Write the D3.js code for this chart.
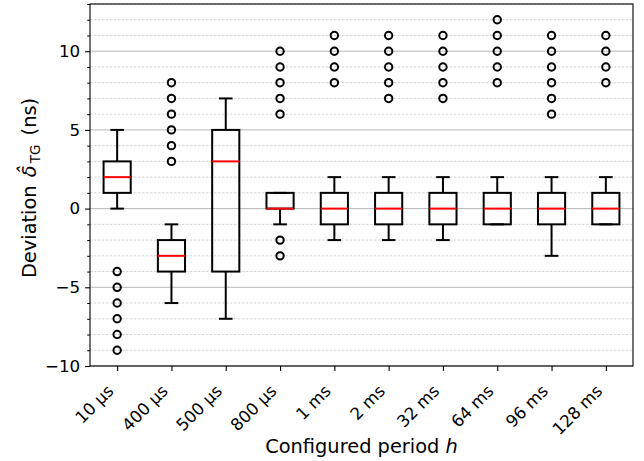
<!DOCTYPE html>
<html>
<head>
<meta charset="utf-8">
<script src="https://cdn.jsdelivr.net/npm/d3@7"></script>
<style>
  body { margin: 0; background: #fff; }
  text { font-family: "DejaVu Sans", sans-serif; }
</style>
</head>
<body>
<svg id="chart"></svg>
<script>
// categories and box statistics (ns)
var periods = ["10 µs", "400 µs", "500 µs", "800 µs", "1 ms", "2 ms", "32 ms", "64 ms", "96 ms", "128 ms"];
var whiskerLow  = [0, -6, -7, -1, -2, -2, -2, -1, -3, -1];
var q1          = [1, -4, -4,  0, -1, -1, -1, -1, -1, -1];
var median      = [2, -3,  3,  0,  0,  0,  0,  0,  0,  0];
var q3          = [3, -2,  5,  1,  1,  1,  1,  1,  1,  1];
var whiskerHigh = [5, -1,  7,  1,  2,  2,  2,  2,  2,  2];
var outliers = [
  [-4, -5, -6, -7, -8, -9],
  [3, 4, 5, 6, 7, 8],
  [],
  [6, 7, 8, 9, 10, -2, -3],
  [8, 9, 10, 11],
  [7, 8, 9, 10, 11],
  [7, 8, 9, 10, 11],
  [8, 9, 10, 11, 12],
  [6, 7, 8, 9, 10, 11],
  [8, 9, 10, 11]
];
var yMajorTicks = [-10, -5, 0, 5, 10];

var width = 644, height = 461;
var margin = {left: 90, right: 11, top: 4, bottom: 95};

var svg = d3.select("#chart")
  .attr("width", width)
  .attr("height", height);

// positions 1..n like matplotlib boxplot
var x = d3.scaleLinear()
  .domain([0.5, periods.length + 0.5])
  .range([margin.left, width - margin.right]);

var y = d3.scaleLinear()
  .domain([-10, 13])
  .range([height - margin.bottom, margin.top]);

var boxW = x(1.25) - x(1);   // half box width
var capW = x(1.125) - x(1);  // half cap width
var lw = 2;

// grid - minor dashed, major solid
var minorTicks = d3.range(-10, 14, 1).filter(function(v){ return v % 5 != 0; });

svg.append("g").selectAll("line")
  .data(minorTicks)
  .enter().append("line")
    .attr("x1", x.range()[0]).attr("x2", x.range()[1])
    .attr("y1", function(d){ return y(d); })
    .attr("y2", function(d){ return y(d); })
    .attr("stroke", "#c8c8c8")
    .attr("stroke-width", 0.8)
    .attr("stroke-dasharray", "2.5,1.5");

svg.append("g").selectAll("line")
  .data(yMajorTicks)
  .enter().append("line")
    .attr("x1", x.range()[0]).attr("x2", x.range()[1])
    .attr("y1", function(d){ return y(d); })
    .attr("y2", function(d){ return y(d); })
    .attr("stroke", "#b8b8b8")
    .attr("stroke-width", 1);

// axes
var yAxis = d3.axisLeft(y)
  .tickValues(yMajorTicks)
  .tickSize(4.9)
  .tickPadding(4.9)
  .tickFormat(function(d){ return d < 0 ? "\u2212" + Math.abs(d) : d; });

var yG = svg.append("g")
  .attr("transform", "translate(" + margin.left + ",0)")
  .call(yAxis);
yG.select(".domain").remove();
yG.selectAll("line").attr("stroke-width", 1.1);
yG.selectAll("text").attr("font-size", 16.7).attr("fill", "#000");

// minor y ticks
var yMinor = d3.axisLeft(y).tickValues(minorTicks).tickSize(2.8).tickFormat("");
var yMinorG = svg.append("g")
  .attr("transform", "translate(" + margin.left + ",0)")
  .call(yMinor);
yMinorG.select(".domain").remove();

var xAxis = d3.axisBottom(x)
  .tickValues(d3.range(1, periods.length + 1))
  .tickSize(4.9)
  .tickFormat(function(d){ return periods[d - 1]; });

var xG = svg.append("g")
  .attr("transform", "translate(0," + (height - margin.bottom) + ")")
  .call(xAxis);
xG.select(".domain").remove();
xG.selectAll("line").attr("stroke-width", 1.1);
xG.selectAll("text")
  .attr("font-size", 16.7)
  .attr("fill", "#000")
  .attr("text-anchor", "end")
  .attr("dy", 0)
  .attr("y", 0)
  .attr("transform", "translate(-3,26) rotate(-45)");

// boxes
var boxes = svg.append("g").selectAll("g")
  .data(periods)
  .enter().append("g");

// whiskers
boxes.append("line")
  .attr("x1", function(d,i){ return x(i+1); })
  .attr("x2", function(d,i){ return x(i+1); })
  .attr("y1", function(d,i){ return y(q3[i]); })
  .attr("y2", function(d,i){ return y(whiskerHigh[i]); })
  .attr("stroke", "#000").attr("stroke-width", lw);
boxes.append("line")
  .attr("x1", function(d,i){ return x(i+1); })
  .attr("x2", function(d,i){ return x(i+1); })
  .attr("y1", function(d,i){ return y(q1[i]); })
  .attr("y2", function(d,i){ return y(whiskerLow[i]); })
  .attr("stroke", "#000").attr("stroke-width", lw);
// caps
boxes.append("line")
  .attr("x1", function(d,i){ return x(i+1) - capW; })
  .attr("x2", function(d,i){ return x(i+1) + capW; })
  .attr("y1", function(d,i){ return y(whiskerHigh[i]); })
  .attr("y2", function(d,i){ return y(whiskerHigh[i]); })
  .attr("stroke", "#000").attr("stroke-width", lw);
boxes.append("line")
  .attr("x1", function(d,i){ return x(i+1) - capW; })
  .attr("x2", function(d,i){ return x(i+1) + capW; })
  .attr("y1", function(d,i){ return y(whiskerLow[i]); })
  .attr("y2", function(d,i){ return y(whiskerLow[i]); })
  .attr("stroke", "#000").attr("stroke-width", lw);
// box
boxes.append("rect")
  .attr("x", function(d,i){ return x(i+1) - boxW; })
  .attr("y", function(d,i){ return y(q3[i]); })
  .attr("width", 2 * boxW)
  .attr("height", function(d,i){ return y(q1[i]) - y(q3[i]); })
  .attr("fill", "none")
  .attr("stroke", "#000").attr("stroke-width", lw);
// median
boxes.append("line")
  .attr("x1", function(d,i){ return x(i+1) - boxW; })
  .attr("x2", function(d,i){ return x(i+1) + boxW; })
  .attr("y1", function(d,i){ return y(median[i]); })
  .attr("y2", function(d,i){ return y(median[i]); })
  .attr("stroke", "#ff0000").attr("stroke-width", lw);
// fliers
boxes.each(function(d,i){
  d3.select(this).selectAll("circle")
    .data(outliers[i])
    .enter().append("circle")
      .attr("cx", x(i+1))
      .attr("cy", function(v){ return y(v); })
      .attr("r", 3.7)
      .attr("fill", "none")
      .attr("stroke", "#000")
      .attr("stroke-width", 2);
});

// frame
svg.append("rect")
  .attr("x", x.range()[0])
  .attr("y", y.range()[1])
  .attr("width", x.range()[1] - x.range()[0])
  .attr("height", y.range()[0] - y.range()[1])
  .attr("fill", "none")
  .attr("stroke", "#000")
  .attr("stroke-width", 1.1);

// labels
var xl = svg.append("text")
  .attr("x", (x.range()[0] + x.range()[1]) / 2)
  .attr("y", 453)
  .attr("text-anchor", "middle")
  .attr("font-size", 19.4);
xl.append("tspan").text("Configured period ");
xl.append("tspan").attr("font-style", "italic").text("h");

var yl = svg.append("text")
  .attr("transform", "translate(35.5,188) rotate(-90)")
  .attr("text-anchor", "middle")
  .attr("font-size", 19.4);
yl.append("tspan").text("Deviation ");
yl.append("tspan").attr("font-style", "italic").attr("dx", 2).text("\u03b4\u0302");
yl.append("tspan").attr("font-size", 13.5).attr("dy", 4).attr("dx", 2).text("TG");
yl.append("tspan").attr("dy", -4).attr("dx", 3).text(" (ns)");
</script>
</body>
</html>
